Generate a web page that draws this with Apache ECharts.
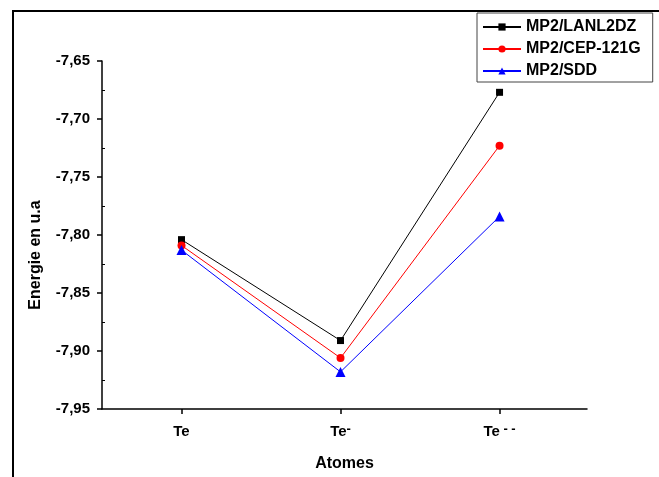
<!DOCTYPE html>
<html>
<head>
<meta charset="utf-8">
<script src="https://cdn.jsdelivr.net/npm/echarts@6/dist/echarts.min.js"></script>
<style>
  html, body { margin: 0; padding: 0; background: #fff; }
  #root { width: 659px; height: 477px; }
</style>
</head>
<body>
<div id="root"></div>
<script>
// categories on the x axis, positioned at 1, 2, 3
const atomes = ['Te', 'Te-', 'Te--'];
const atomePos = [1, 2, 3];

const lanl2dz = [-7.804, -7.891, -7.677];
const cep121g = [-7.809, -7.906, -7.723];
const sdd = [-7.813, -7.918, -7.784];

const yTicks = [-7.95, -7.90, -7.85, -7.80, -7.75, -7.70, -7.65];
const yMinorTicks = [-7.925, -7.875, -7.825, -7.775, -7.725, -7.675];

(function () {
  const chart = echarts.init(document.getElementById('root'));
  const font = '"Liberation Sans", Arial, sans-serif';

  const toPoints = vals => vals.map((v, i) => [atomePos[i], v]);

  const labelFor = v => {
    const i = atomePos.indexOf(v);
    if (i === 0) return '{a|Te}';
    if (i === 1) return '{a|Te}{s|-}';
    if (i === 2) return '{a|Te}{s| - -}';
    return '';
  };

  const lineSeries = (name, data, color, symbol, size) => ({
    name,
    type: 'line',
    data: toPoints(data),
    symbol,
    symbolSize: size,
    itemStyle: { color },
    lineStyle: { color, width: 1 },
    emphasis: { disabled: true },
    animation: false
  });

  const option = {
    backgroundColor: '#fff',
    animation: false,
    grid: { left: 102, right: 72, top: 61, bottom: 65 },
    legend: {
      orient: 'vertical',
      left: 477,
      top: 13,
      padding: [6, 12, 3, 5],
      itemWidth: 38,
      itemHeight: 9,
      itemGap: 6,
      backgroundColor: '#fff',
      borderColor: '#444',
      borderWidth: 1,
      textStyle: { fontFamily: font, fontWeight: 'bold', fontSize: 16, color: '#000' },
      data: ['MP2/LANL2DZ', 'MP2/CEP-121G', 'MP2/SDD']
    },
    xAxis: {
      type: 'value',
      min: 0.5,
      max: 3.55,
      splitLine: { show: false },
      axisLine: { lineStyle: { color: '#000', width: 1.5 } },
      axisTick: { customValues: atomePos, length: 5, lineStyle: { color: '#000', width: 1.5 } },
      axisLabel: {
        customValues: atomePos,
        margin: 14,
        formatter: labelFor,
        rich: {
          a: { fontFamily: font, fontWeight: 'bold', fontSize: 15, color: '#000', lineHeight: 18 },
          s: { fontFamily: font, fontWeight: 'bold', fontSize: 13, color: '#000', lineHeight: 8, verticalAlign: 'top' }
        }
      },
      name: 'Atomes',
      nameLocation: 'middle',
      nameGap: 47,
      nameTextStyle: { fontFamily: font, fontWeight: 'bold', fontSize: 16, color: '#000' }
    },
    yAxis: [
      {
        type: 'value',
        min: -7.95,
        max: -7.65,
        interval: 0.05,
        splitLine: { show: false },
        axisLine: { show: true, lineStyle: { color: '#000', width: 1.5 } },
        axisTick: { show: true, length: 5, lineStyle: { color: '#000', width: 1.5 } },
        axisLabel: {
          margin: 12,
          fontFamily: font,
          fontWeight: 'bold',
          fontSize: 15,
          color: '#000',
          formatter: v => v.toFixed(2).replace('.', ',')
        }
      },
      {
        type: 'value',
        position: 'left',
        min: -7.95,
        max: -7.65,
        splitLine: { show: false },
        axisLine: { show: false },
        axisTick: { show: true, inside: true, length: 3, customValues: yMinorTicks, lineStyle: { color: '#000', width: 1 } },
        axisLabel: { show: false }
      }
    ],
    graphic: [
      {
        type: 'text',
        x: 36,
        y: 255,
        rotation: Math.PI / 2,
        style: {
          text: 'Energie en u.a',
          fontFamily: font,
          fontWeight: 'bold',
          fontSize: 16,
          fill: '#000',
          align: 'center',
          verticalAlign: 'middle'
        }
      },
      // outer frame: top and left border
      { type: 'line', shape: { x1: 12, y1: 11, x2: 659, y2: 11 }, style: { stroke: '#000', lineWidth: 2 } },
      { type: 'line', shape: { x1: 13, y1: 11, x2: 13, y2: 477 }, style: { stroke: '#000', lineWidth: 2 } }
    ],
    series: [
      lineSeries('MP2/LANL2DZ', lanl2dz, '#000000', 'rect', 7),
      lineSeries('MP2/CEP-121G', cep121g, '#ff0000', 'circle', 8),
      lineSeries('MP2/SDD', sdd, '#0000ff', 'triangle', 10)
    ]
  };

  chart.setOption(option);
})();
</script>
</body>
</html>
